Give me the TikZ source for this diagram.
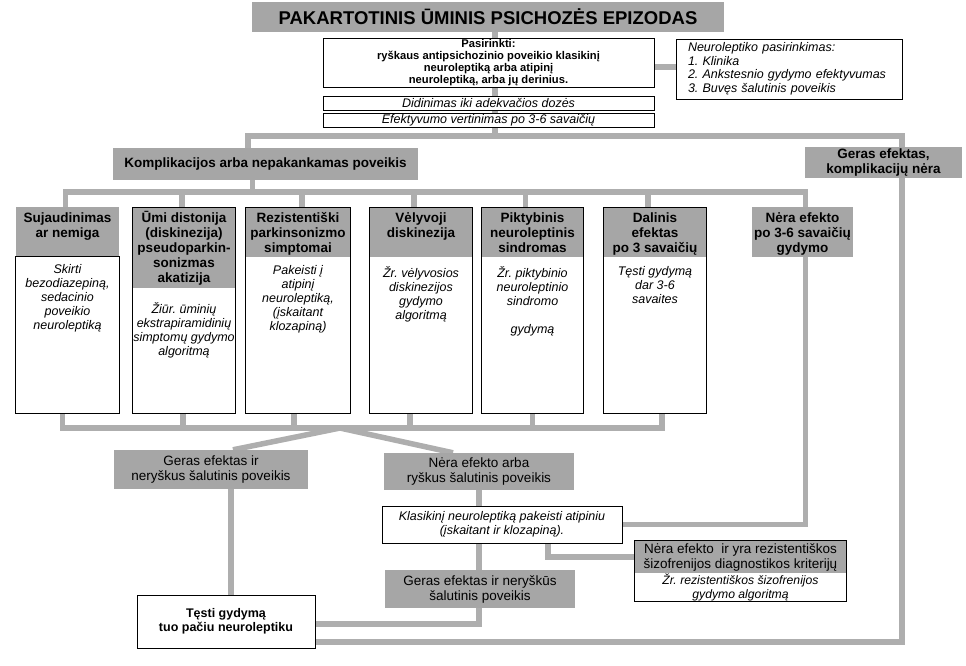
\documentclass[tikz,border=0pt]{standalone}
\usepackage{fontspec}
\setmainfont{Liberation Sans}
\usetikzlibrary{backgrounds}
\frenchspacing

\definecolor{boxgray}{RGB}{166,166,166}
\definecolor{linkgray}{RGB}{174,174,174}

% text block of fixed size, set from the top
\newcommand{\cell}[4][15pt]{\parbox[c][#3][t]{#2}{\centering\rule{0pt}{#1}#4}}

\begin{document}
\begin{tikzpicture}[x=1pt, y=-1pt,
    link/.style={draw=linkgray, line width=5.5pt},
    grey/.style={fill=boxgray, inner sep=0pt, align=center},
    plain/.style={draw, fill=white, inner sep=0pt, align=center, line width=0.8pt},
    frame/.style={draw, line width=0.8pt},
    hfont/.style={font=\bfseries\fontsize{13.5}{15}\selectfont},
    rfont/.style={font=\fontsize{13.5}{15}\selectfont},
    ifont/.style={font=\itshape\fontsize{12.5}{14}\selectfont}]
    \useasboundingbox (0,0) rectangle (966,665);

    % Top
    \node[grey, minimum width=472pt, minimum height=30pt, font=\bfseries\fontsize{18.5}{20}\selectfont] (title) at (488,17) {PAKARTOTINIS ŪMINIS PSICHOZĖS EPIZODAS};
    \node[plain, minimum width=331pt, minimum height=49pt, font=\bfseries\fontsize{11.2}{12}\selectfont] (choose) at (488.5,62.5) {Pasirinkti:\\ryškaus antipsichozinio poveikio klasikinį\\neuroleptiką arba atipinį\\neuroleptiką, arba jų derinius.};
    \node[plain, minimum height=60pt, align=left, text width=202pt, inner xsep=12pt, font=\itshape\fontsize{12.5}{13.5}\selectfont] (criteria) at (789,69) {Neuroleptiko pasirinkimas:\\1. Klinika\\2. Ankstesnio gydymo efektyvumas\\3. Buvęs šalutinis poveikis};
    \node[plain, minimum width=331pt, minimum height=13.5pt, ifont] (dose) at (488.5,103.5) {Didinimas iki adekvačios dozės};
    \node[plain, minimum width=331pt, minimum height=14pt, ifont] (assess) at (488.5,120) {Efektyvumo vertinimas po 3-6 savaičių};

    % Second level
    \node[grey, minimum width=305pt, minimum height=32pt, hfont] (worse) at (265.5,164) {Komplikacijos arba nepakankamas poveikis};
    \node[grey, minimum width=157pt, minimum height=31pt, hfont] (better) at (883.5,162.5) {Geras efektas,\\komplikacijų nėra};

    % Columns
    \node[grey, anchor=north, hfont] (h1) at (67.5,207) {\cell{103pt}{49pt}{Sujaudinimas\\ar nemiga}};
    \node[fill=white, inner sep=0pt, anchor=north, ifont] (b1) at (h1.south) {\cell[17pt]{103pt}{157pt}{Skirti\\bezodiazepiną,\\sedacinio\\poveikio\\neuroleptiką}};
    \draw[frame] (b1.north west) rectangle (b1.south east);

    \node[grey, anchor=north, hfont] (h2) at (184,207) {\cell{102pt}{81pt}{Ūmi distonija\\(diskinezija)\\pseudoparkin-\\sonizmas\\akatizija}};
    \node[fill=white, inner sep=0pt, anchor=north, ifont] (b2) at (h2.south) {\cell[25pt]{102pt}{125pt}{Žiūr. ūminių\\ekstrapiramidinių\\simptomų gydymo\\algoritmą}};
    \draw[frame] (h2.north west) rectangle (b2.south east);

    \node[grey, anchor=north, hfont] (h3) at (298,207) {\cell{104pt}{50pt}{Rezistentiški\\parkinsonizmo\\simptomai}};
    \node[fill=white, inner sep=0pt, anchor=north, ifont] (b3) at (h3.south) {\cell[17pt]{104pt}{156pt}{Pakeisti į\\atipinį\\neuroleptiką,\\(įskaitant\\klozapiną)}};
    \draw[frame] (h3.north west) rectangle (b3.south east);

    \node[grey, anchor=north, hfont] (h4) at (421,207) {\cell{102pt}{50pt}{Vėlyvoji\\diskinezija}};
    \node[fill=white, inner sep=0pt, anchor=north, ifont] (b4) at (h4.south) {\cell[20pt]{102pt}{156pt}{Žr. vėlyvosios\\diskinezijos\\gydymo\\algoritmą}};
    \draw[frame] (h4.north west) rectangle (b4.south east);

    \node[grey, anchor=north, hfont] (h5) at (532.5,207) {\cell{101pt}{50pt}{Piktybinis\\neuroleptinis\\sindromas}};
    \node[fill=white, inner sep=0pt, anchor=north, ifont] (b5) at (h5.south) {\cell[20pt]{101pt}{156pt}{Žr. piktybinio\\neuroleptinio\\sindromo\\[14pt]gydymą}};
    \draw[frame] (h5.north west) rectangle (b5.south east);

    \node[grey, anchor=north, hfont] (h6) at (655,207) {\cell{102pt}{50pt}{Dalinis\\efektas\\po 3 savaičių}};
    \node[fill=white, inner sep=0pt, anchor=north, ifont] (b6) at (h6.south) {\cell[18pt]{102pt}{156pt}{Tęsti gydymą\\dar 3-6\\savaites}};
    \draw[frame] (h6.north west) rectangle (b6.south east);

    \node[grey, anchor=north, hfont] (h7) at (802.5,207) {\cell{101pt}{50pt}{Nėra efekto\\po 3-6 savaičių\\gydymo}};

    % Lower part
    \node[grey, minimum width=194pt, minimum height=39pt, rfont] (good) at (211,469.5) {Geras efektas ir\\neryškus šalutinis poveikis};
    \node[grey, minimum width=190pt, minimum height=37pt, rfont] (none) at (479,471.5) {Nėra efekto arba\\ryškus šalutinis poveikis};
    \node[plain, minimum width=240pt, minimum height=37pt, ifont] (switch) at (502,524.5) {Klasikinį neuroleptiką pakeisti atipiniu\\(įskaitant ir klozapiną).};
    \node[grey, minimum width=190pt, minimum height=38pt, rfont] (good2) at (480,589) {Geras efektas ir neryškūs\\šalutinis poveikis};
    \node[plain, minimum width=178pt, minimum height=53pt, font=\bfseries\fontsize{12.5}{14.5}\selectfont] (keep) at (226,621.5) {Tęsti gydymą\\tuo pačiu neuroleptiku};
    \node[grey, minimum width=211pt, minimum height=32pt, rfont] (resist) at (740.5,557) {Nėra efekto\ \ ir yra rezistentiškos\\šizofrenijos diagnostikos kriterijų};
    \node[fill=white, inner sep=0pt, minimum width=211pt, minimum height=28pt, align=center, font=\itshape\fontsize{12.2}{14}\selectfont] (resistref) at (740.5,587) {Žr. rezistentiškos šizofrenijos\\gydymo algoritmą};
    \draw[frame] (resist.north west) rectangle (resistref.south east);

    % Connectors
    \begin{scope}[on background layer]
        \coordinate (busL) at (248,136);
        \coordinate (busR) at (902,136);
        \coordinate (rowbus) at (0,192);
        \coordinate (lowbus) at (0,428);
        \coordinate (apex) at (340,428);

        \draw[link] ([xshift=7pt]title.south) -- ([xshift=7pt]title.south |- busL);
        \draw[link] ([yshift=-4.5pt]choose.east) -- ([yshift=-4.5pt]choose.east -| criteria.west);
        \draw[link] (worse.north -| busL) -- (busL) -- (busR) |- ([yshift=-20.5pt]keep.east);

        \draw[link] ([xshift=-13pt]worse.south) -- ([xshift=-13pt]worse.south |- rowbus);
        \draw[link] ([xshift=-2pt]h1.north) |- ([xshift=3pt]h7.north |- rowbus) -- ([xshift=3pt]h7.north);
        \foreach \b/\s in {h2/-2,h3/4,h4/-7,h5/-7,h6/-7}
            \draw[link] ([xshift=\s pt]\b.north) -- ([xshift=\s pt]\b.north |- rowbus);

        \draw[link] ([xshift=-5pt]b1.south) |- ([xshift=7pt]b6.south |- lowbus) -- ([xshift=7pt]b6.south);
        \foreach \b/\s in {b2/-1,b3/-4,b4/-11,b5/0}
            \draw[link] ([xshift=\s pt]\b.south) -- ([xshift=\s pt]\b.south |- lowbus);

        \draw[link] ([xshift=22pt]good.north) -- (apex) -- ([xshift=-26pt]none.north);
        \draw[link] ([xshift=20pt]good.south) -- ([xshift=20pt]good.south |- keep.north);
        \draw[link] (none.south) |- ([yshift=-2.5pt]keep.east);
        \draw[link] (switch.east) -| ([xshift=3pt]h7.south);
        \draw[link] ([xshift=46pt]switch.south) |- (resist.west);
    \end{scope}
\end{tikzpicture}
\end{document}
